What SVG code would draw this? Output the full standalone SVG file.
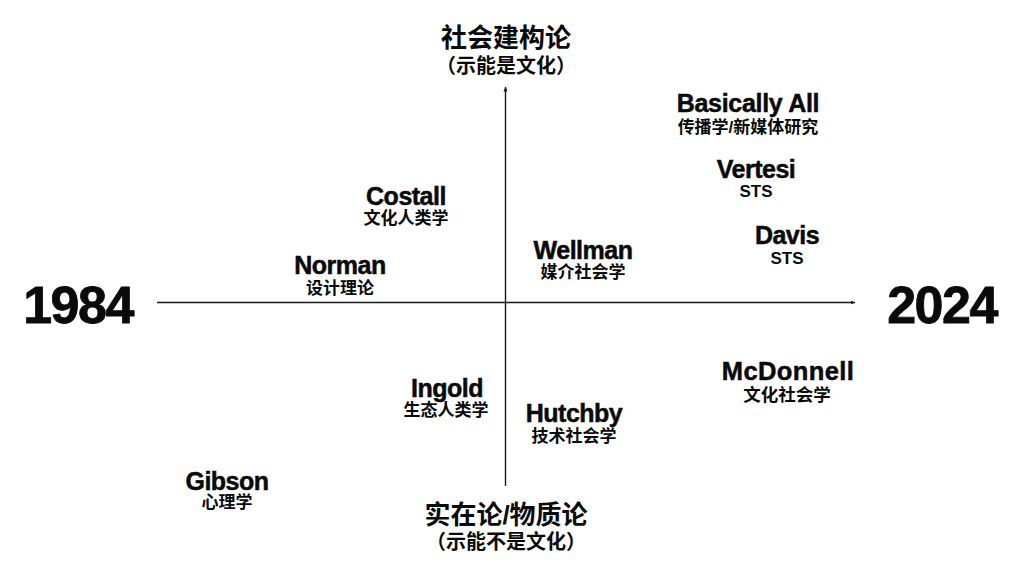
<svg xmlns="http://www.w3.org/2000/svg" width="1024" height="576" viewBox="0 0 1024 576">
  <defs>
    <style>
      text { font-family: "Liberation Sans", "Noto Sans CJK SC", sans-serif; font-weight: 700; fill: #0a0a0a; text-anchor: middle; }
      .year { font-size: 52px; letter-spacing: -1.5px; stroke: #0a0a0a; stroke-width: 0.8px; }
      .title { font-size: 26px; }
      .sub { font-size: 20px; }
      .name { font-size: 25px; letter-spacing: -0.5px; stroke: #0a0a0a; stroke-width: 0.5px; }
      .field { font-size: 17px; }
      .axis { stroke: #1a1a1a; stroke-width: 1.4; fill: none; }
    </style>
    <marker id="arrow" viewBox="0 0 10 10" refX="9" refY="5" markerWidth="5" markerHeight="5" orient="auto" markerUnits="userSpaceOnUse">
      <path d="M0,1 L10,5 L0,9 Z" fill="#1a1a1a"/>
    </marker>
  </defs>
  <rect width="1024" height="576" fill="#ffffff"/>

  <g id="connectors">
    <line class="axis" x1="157" y1="302.5" x2="855" y2="302.5" marker-end="url(#arrow)"/>
    <line class="axis" x1="505.5" y1="486" x2="505.5" y2="87" marker-end="url(#arrow)"/>
  </g>

  <g id="axis-left"><text class="year" x="78" y="323">1984</text></g>
  <g id="axis-right"><text class="year" x="942" y="323">2024</text></g>
  <g id="axis-top">
    <text class="title" x="506" y="47">社会建构论</text>
    <text class="sub" x="506" y="73">（示能是文化）</text>
  </g>
  <g id="axis-bottom">
    <text class="title" x="506" y="524">实在论/物质论</text>
    <text class="sub" x="506" y="549">（示能不是文化）</text>
  </g>

  <g id="node-basically-all">
    <text class="name" x="748" y="112" style="letter-spacing:-0.3px">Basically All</text>
    <text class="field" x="748" y="133">传播学/新媒体研究</text>
  </g>
  <g id="node-vertesi">
    <text class="name" x="756" y="178">Vertesi</text>
    <text class="field" x="756" y="197">STS</text>
  </g>
  <g id="node-davis">
    <text class="name" x="787" y="244">Davis</text>
    <text class="field" x="787" y="264">STS</text>
  </g>
  <g id="node-costall">
    <text class="name" x="406" y="205">Costall</text>
    <text class="field" x="406" y="224">文化人类学</text>
  </g>
  <g id="node-norman">
    <text class="name" x="340" y="274">Norman</text>
    <text class="field" x="340" y="294">设计理论</text>
  </g>
  <g id="node-wellman">
    <text class="name" x="583" y="259">Wellman</text>
    <text class="field" x="583" y="278">媒介社会学</text>
  </g>
  <g id="node-ingold">
    <text class="name" x="447" y="397">Ingold</text>
    <text class="field" x="446" y="416">生态人类学</text>
  </g>
  <g id="node-hutchby">
    <text class="name" x="574" y="422">Hutchby</text>
    <text class="field" x="574" y="442">技术社会学</text>
  </g>
  <g id="node-mcdonnell">
    <text class="name" x="788" y="380" style="font-size:25.5px;letter-spacing:0.4px">McDonnell</text>
    <text class="field" x="787" y="401" style="font-size:17.5px">文化社会学</text>
  </g>
  <g id="node-gibson">
    <text class="name" x="227" y="490">Gibson</text>
    <text class="field" x="227" y="508">心理学</text>
  </g>
</svg>
